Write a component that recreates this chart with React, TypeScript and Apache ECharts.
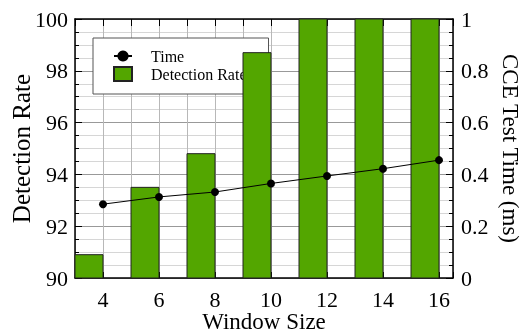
import React, { useEffect, useRef } from "react";
import * as echarts from "echarts";

const windowSizes = [4, 6, 8, 10, 12, 14, 16];
const detectionRate = [90.9, 93.5, 94.8, 98.7, 100, 100, 100];
const testTime = [0.285, 0.313, 0.332, 0.365, 0.394, 0.422, 0.455];

const FONT = "Liberation Serif";

export default function App() {
  const ref = useRef<HTMLDivElement>(null);
  useEffect(() => {
    if (!ref.current) return;
    const chart = echarts.init(ref.current, undefined, { renderer: "svg" });
    const barData = windowSizes.map((w, i) => [w, detectionRate[i]]);
    const lineData = windowSizes.map((w, i) => [w, testTime[i]]);
    const xLabel = (v: number) => (Number.isInteger(v) && v % 2 === 0 ? String(v) : "");
    chart.setOption({
      animation: false,
      textStyle: { fontFamily: FONT, color: "#000" },
      grid: { left: 75, top: 19, right: 70, bottom: 55, containLabel: false, outerBoundsMode: "none" },
      legend: {
        z: 1,
        left: 93,
        top: 38,
        orient: "vertical",
        backgroundColor: "#fff",
        borderColor: "#555",
        borderWidth: 1,
        padding: [10, 22, 12, 20],
        itemWidth: 18,
        itemHeight: 14,
        itemGap: 2,
        textStyle: { fontFamily: FONT, fontSize: 16, color: "#000", padding: [0, 0, 0, 14], lineHeight: 16 },
        data: [
          { name: "Time" },
          { name: "Detection Rate", icon: "rect" },
        ],
      },
      xAxis: [
        {
          type: "value",
          min: 3,
          max: 16.5,
          interval: 1,
          name: "Window Size",
          nameLocation: "middle",
          nameGap: 33,
          nameMoveOverlap: false,
          nameTextStyle: { fontFamily: FONT, fontSize: 23, lineHeight: 20, color: "#000" },
          axisLine: { onZero: false, lineStyle: { color: "#000", width: 1.5 } },
          axisTick: { inside: true, length: 6, lineStyle: { color: "#000" } },
          axisLabel: { formatter: xLabel, fontFamily: FONT, fontSize: 22, lineHeight: 20, color: "#000", margin: 11 },
          splitLine: { show: true, lineStyle: { color: "#b8b8b8", width: 1 } },
        },
        {
          type: "value",
          position: "top",
          min: 3,
          max: 16.5,
          interval: 1,
          axisLine: { onZero: false, lineStyle: { color: "#000", width: 1.5 } },
          axisTick: { inside: true, length: 7, lineStyle: { color: "#000" } },
          axisLabel: { show: false },
          splitLine: { show: false },
        },
      ],
      yAxis: [
        {
          type: "value",
          min: 90,
          max: 100,
          interval: 2,
          name: "Detection Rate",
          nameLocation: "middle",
          nameGap: 41,
          nameMoveOverlap: false,
          nameTextStyle: { fontFamily: FONT, fontSize: 25, color: "#000" },
          axisLine: { show: true, onZero: false, lineStyle: { color: "#000", width: 1.5 } },
          axisTick: { show: true, inside: true, length: 7, lineStyle: { color: "#000" } },
          minorTick: { show: true, splitNumber: 4, length: 4, lineStyle: { color: "#000" } },
          axisLabel: { fontFamily: FONT, fontSize: 22, color: "#000", margin: 7 },
          splitLine: { show: true, lineStyle: { color: "#999", width: 1 } },
          minorSplitLine: { show: true, lineStyle: { color: "#d6d6d6", width: 1 } },
        },
        {
          type: "value",
          min: 0,
          max: 1,
          interval: 0.2,
          name: "CCE Test Time (ms)",
          nameLocation: "middle",
          nameGap: 45,
          nameRotate: -90,
          nameTextStyle: { fontFamily: FONT, fontSize: 23, color: "#000" },
          axisLine: { show: true, onZero: false, lineStyle: { color: "#000", width: 1.5 } },
          axisTick: { show: true, inside: true, length: 7, lineStyle: { color: "#000" } },
          minorTick: { show: true, splitNumber: 4, length: 4, lineStyle: { color: "#000" } },
          axisLabel: {
            fontFamily: FONT,
            fontSize: 22,
            color: "#000",
            margin: 8,
            formatter: (v: number) => String(Math.round(v * 10) / 10),
          },
          splitLine: { show: false },
        },
      ],
      series: [
        {
          name: "Detection Rate",
          type: "custom",
          xAxisIndex: 0,
          yAxisIndex: 0,
          z: 2,
          itemStyle: { color: "#53a600", borderColor: "#222", borderWidth: 1 },
          data: barData,
          encode: { x: 0, y: 1 },
          renderItem: (params: any, api: any) => {
            const x = api.value(0);
            const v = api.value(1);
            const pTop = api.coord([x - 1, v]);
            const pBot = api.coord([x, 90]);
            return {
              type: "rect",
              shape: { x: pTop[0], y: pTop[1], width: pBot[0] - pTop[0], height: pBot[1] - pTop[1] },
              style: { fill: "#53a600", stroke: "#222", lineWidth: 1 },
            };
          },
        },
        {
          name: "Time",
          type: "line",
          xAxisIndex: 0,
          yAxisIndex: 1,
          z: 3,
          data: lineData,
          symbol: "circle",
          symbolSize: 8,
          itemStyle: { color: "#000" },
          lineStyle: { color: "#000", width: 1 },
        },
      ],
    });
    return () => chart.dispose();
  }, []);
  return <div ref={ref} style={{ position: "fixed", left: 0, top: 0, width: 523, height: 333 }} />;
}
